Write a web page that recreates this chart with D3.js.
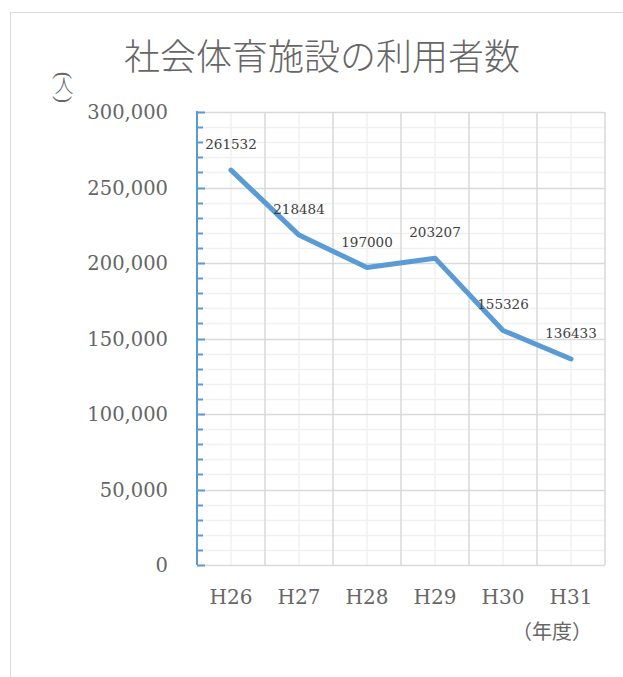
<!DOCTYPE html>
<html>
<head>
<meta charset="utf-8">
<script src="https://cdn.jsdelivr.net/npm/d3@7"></script>
<style>
  html, body { margin: 0; padding: 0; background: #fff; }
  svg { display: block; }
</style>
</head>
<body>
<svg id="chart" width="623" height="677"></svg>
<script>
// 社会体育施設の利用者数 (H26–H31)
const years = ["H26", "H27", "H28", "H29", "H30", "H31"];
const users = [261532, 218484, 197000, 203207, 155326, 136433];
const yTicks = [0, 50000, 100000, 150000, 200000, 250000, 300000];

const svg = d3.select("#chart");
const serif = "'DejaVu Serif', 'Liberation Serif', serif";
const thinSerif = "'Liberation Serif', 'DejaVu Serif', serif";
const cjk = "'Noto Sans CJK JP', 'Noto Sans CJK SC', sans-serif";

const plot = { left: 197, right: 605, top: 112, bottom: 565 };

// outer chart frame
svg.append("rect")
  .attr("x", 10.5).attr("y", 12.5)
  .attr("width", 700).attr("height", 700)
  .attr("fill", "#fff").attr("stroke", "#d9d9d9").attr("stroke-width", 1);

const x = d3.scaleBand().domain(years).range([plot.left, plot.right]).padding(0);
const y = d3.scaleLinear().domain([0, 300000]).range([plot.bottom, plot.top]);

const minorY = d3.range(0, 300001, 10000);
const g = svg.append("g");

// minor horizontal gridlines (every 10,000)
g.selectAll("line.hminor").data(minorY.filter(v => v % 50000 !== 0)).join("line")
  .attr("x1", plot.left).attr("x2", plot.right)
  .attr("y1", d => Math.round(y(d)) + 0.5).attr("y2", d => Math.round(y(d)) + 0.5)
  .attr("stroke", "#f0f0f0").attr("stroke-width", 1.5);

// minor vertical gridlines at category centres
g.selectAll("line.vminor").data(years).join("line")
  .attr("x1", d => x(d) + x.bandwidth() / 2).attr("x2", d => x(d) + x.bandwidth() / 2)
  .attr("y1", plot.top).attr("y2", plot.bottom)
  .attr("stroke", "#f0f0f0").attr("stroke-width", 1.5);

// major horizontal gridlines
g.selectAll("line.hmajor").data(yTicks).join("line")
  .attr("x1", plot.left).attr("x2", plot.right)
  .attr("y1", d => Math.round(y(d)) + 0.5).attr("y2", d => Math.round(y(d)) + 0.5)
  .attr("stroke", "#d9d9d9").attr("stroke-width", 1.5);

// major vertical gridlines at category boundaries
const bounds = years.map(d => x(d)).concat([plot.right]);
g.selectAll("line.vmajor").data(bounds.slice(1)).join("line")
  .attr("x1", d => d).attr("x2", d => d)
  .attr("y1", plot.top).attr("y2", plot.bottom)
  .attr("stroke", "#d9d9d9").attr("stroke-width", 1.5);

// value axis: blue line with inside ticks
const axisG = svg.append("g");
axisG.append("line")
  .attr("x1", plot.left).attr("x2", plot.left)
  .attr("y1", plot.top - 1).attr("y2", plot.bottom)
  .attr("stroke", "#5b9bd5").attr("stroke-width", 2);
axisG.selectAll("line.tick").data(minorY).join("line")
  .attr("x1", plot.left).attr("x2", d => plot.left + (d % 50000 === 0 ? 8 : 6))
  .attr("y1", d => Math.round(y(d)) + 0.5).attr("y2", d => Math.round(y(d)) + 0.5)
  .attr("stroke", "#5b9bd5").attr("stroke-width", 2);

// value axis labels
const fmt = d3.format(",");
svg.selectAll("text.ylab").data(yTicks).join("text")
  .attr("x", 168).attr("y", d => y(d) + 7)
  .attr("text-anchor", "end")
  .attr("font-family", serif).attr("font-size", 19.5)
  .attr("fill", "#666")
  .text(d => fmt(d));

// category labels
svg.selectAll("text.xlab").data(years).join("text")
  .attr("x", d => x(d) + x.bandwidth() / 2).attr("y", 604)
  .attr("text-anchor", "middle")
  .attr("font-family", serif).attr("font-size", 20)
  .attr("fill", "#666")
  .text(d => d);

// line series
const line = d3.line()
  .x((d, i) => x(years[i]) + x.bandwidth() / 2)
  .y(d => y(d));
svg.append("path")
  .datum(users)
  .attr("d", line)
  .attr("fill", "none")
  .attr("stroke", "#5b9bd5")
  .attr("stroke-width", 5)
  .attr("stroke-linejoin", "round")
  .attr("stroke-linecap", "round");

// data labels
svg.selectAll("text.val").data(users).join("text")
  .attr("x", (d, i) => x(years[i]) + x.bandwidth() / 2)
  .attr("y", d => y(d) - 21)
  .attr("text-anchor", "middle")
  .attr("font-family", serif).attr("font-size", 13.5)
  .attr("fill", "#404040")
  .text(d => d);

// title
svg.append("text")
  .attr("x", 322).attr("y", 70)
  .attr("text-anchor", "middle")
  .attr("font-family", cjk).attr("font-size", 36).attr("font-weight", 300)
  .attr("fill", "#666")
  .text("社会体育施設の利用者数");

// value axis title, stacked vertically: (人) with the brackets turned sideways
const yt = svg.append("g").attr("fill", "#666");
function sideBracket(ch, cx, cy) {
  const t = yt.append("text")
    .attr("font-family", thinSerif).attr("font-size", 22)
    .text(ch);
  const b = t.node().getBBox();
  t.attr("transform",
    `translate(${cx},${cy}) rotate(90) translate(${-(b.x + b.width / 2)},${-(b.y + b.height / 2)})`);
}
sideBracket("(", 64, 75.5);
yt.append("text")
  .attr("x", 64).attr("y", 93)
  .attr("text-anchor", "middle")
  .attr("font-family", cjk).attr("font-size", 19).attr("font-weight", 300)
  .text("人");
sideBracket(")", 64, 99.5);

// category axis title
svg.append("text")
  .attr("x", 552).attr("y", 639)
  .attr("text-anchor", "middle")
  .attr("font-family", cjk).attr("font-size", 20)
  .attr("fill", "#666")
  .text("（年度）");
</script>
</body>
</html>
